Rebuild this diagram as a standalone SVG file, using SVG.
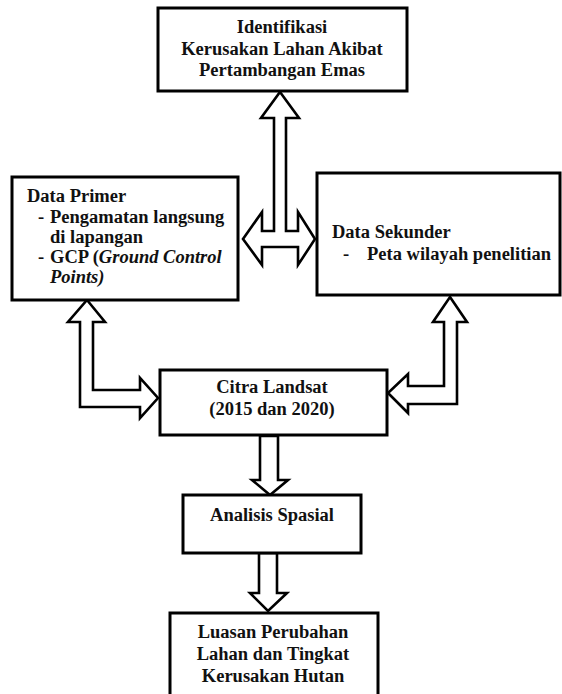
<svg xmlns="http://www.w3.org/2000/svg" width="562" height="694" viewBox="0 0 562 694">
<style>
.box{fill:#fff;stroke:#000;stroke-width:3}
.arr{fill:#fff;stroke:#000;stroke-width:2.6;stroke-linejoin:miter}
text{font-family:"Liberation Serif","Times New Roman",serif;font-weight:bold;font-size:18.5px;fill:#111}
.c{text-anchor:middle}
.i{font-style:italic}
</style>
<rect width="562" height="694" fill="#fff"/>
<g id="connectors">
<polygon class="arr" points="280,92 299,118 286,118 286,231 298,231 298,212 315,239 298,265 298,247 262,247 262,265 243,239 262,212 262,231 274,231 274,118 261,118"/>
<polygon class="arr" points="87,300 105,322 93,322 93,390 140,390 140,378 158,398 140,418 140,407 80,407 80,322 68,322"/>
<polygon class="arr" points="450,297 467,322 457,322 457,404 408,404 408,413 388,393 408,374 408,386 444,386 444,322 433,322"/>
<polygon class="arr" points="260,436 278,436 278,480 288,480 270,495 252,480 260,480"/>
<polygon class="arr" points="259,553 277,553 277,593 287,593 268,611 250,593 259,593"/>
</g>
<g id="identifikasi">
<rect class="box" x="158" y="8" width="249" height="83"/>
<text class="c" x="282" y="33">Identifikasi</text>
<text class="c" x="282" y="55">Kerusakan Lahan Akibat</text>
<text class="c" x="282" y="76">Pertambangan Emas</text>
</g>
<g id="data-primer">
<rect class="box" x="12" y="177" width="226" height="123"/>
<text x="27" y="202">Data Primer</text>
<text y="223"><tspan x="38">-</tspan><tspan x="50">Pengamatan langsung</tspan></text>
<text x="50" y="243">di lapangan</text>
<text y="263"><tspan x="38">-</tspan><tspan x="50">GCP (</tspan><tspan class="i">Ground Control</tspan></text>
<text class="i" x="50" y="283">Points)</text>
</g>
<g id="data-sekunder">
<rect class="box" x="317" y="173" width="243" height="122"/>
<text x="332" y="238">Data Sekunder</text>
<text y="260"><tspan x="343">-</tspan><tspan x="367">Peta wilayah penelitian</tspan></text>
</g>
<g id="citra-landsat">
<rect class="box" x="160" y="370" width="227" height="65"/>
<text class="c" x="272" y="393">Citra Landsat</text>
<text class="c" x="272" y="415">(2015 dan 2020)</text>
</g>
<g id="analisis-spasial">
<rect class="box" x="183" y="495" width="178" height="58"/>
<text class="c" x="272" y="521">Analisis Spasial</text>
</g>
<g id="luasan-perubahan">
<rect class="box" x="170" y="613" width="208" height="90"/>
<text class="c" x="273" y="638">Luasan Perubahan</text>
<text class="c" x="273" y="660">Lahan dan Tingkat</text>
<text class="c" x="273" y="682">Kerusakan Hutan</text>
</g>
</svg>
